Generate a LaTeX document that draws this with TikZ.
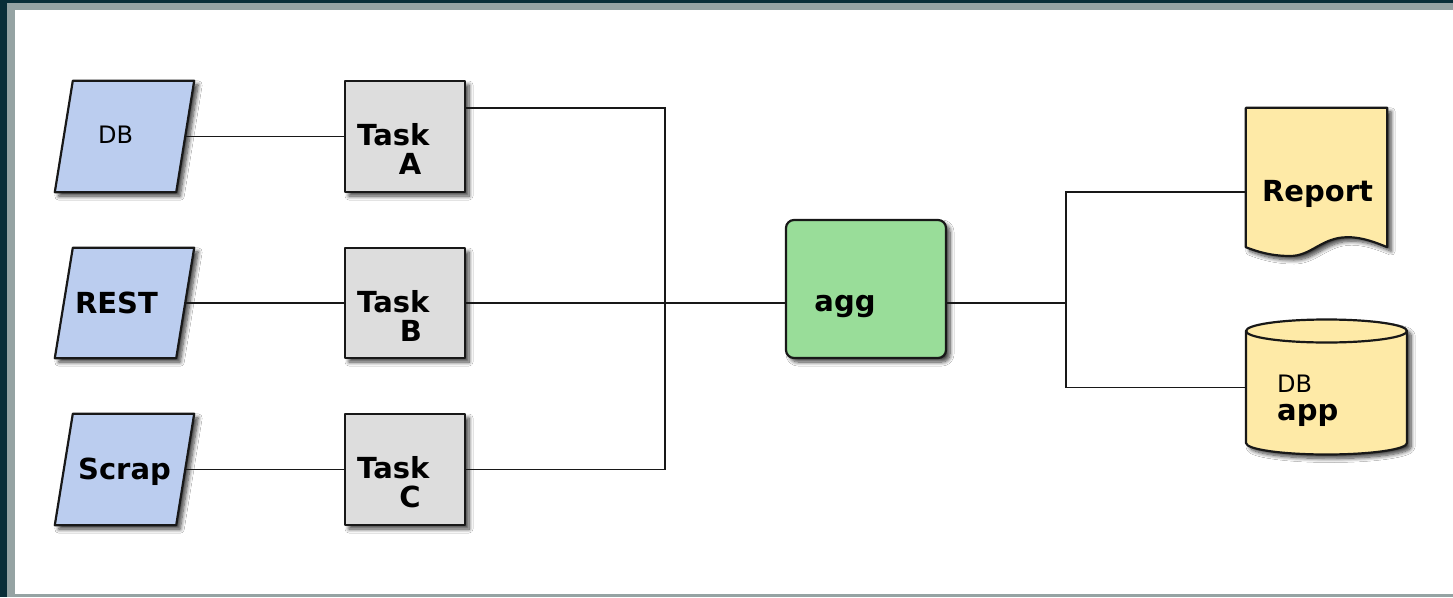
\documentclass[tikz,border=0pt]{standalone}
\usepackage{fontspec}
\setmainfont{DejaVu Sans}
\usetikzlibrary{shadows.blur,calc}

\definecolor{framedark}{RGB}{9,46,56}
\definecolor{framegray}{RGB}{149,163,163}
\definecolor{srcblue}{RGB}{187,205,239}
\definecolor{taskgray}{RGB}{221,221,221}
\definecolor{agggreen}{RGB}{153,221,153}
\definecolor{outyellow}{RGB}{254,234,167}
\definecolor{edge}{RGB}{24,24,24}

\tikzset{
  outline/.style={draw=edge, line width=2.2pt, line join=round},
  softshadow/.style={blur shadow={shadow xshift=4pt, shadow yshift=-4pt,
      shadow blur radius=4pt, shadow blur steps=8, shadow opacity=75}},
  place/.style={draw=none, inner sep=0pt, minimum width=#1},
  srcshape/.style={outline, fill=srcblue, softshadow},
  taskbox/.style={outline, fill=taskgray, softshadow, inner sep=0pt,
      minimum width=120pt, minimum height=111pt},
  aggbox/.style={outline, fill=agggreen, softshadow, rounded corners=8pt,
      inner sep=0pt, minimum width=160pt, minimum height=138pt},
  outshape/.style={outline, fill=outyellow, softshadow},
  wire/.style={draw=edge, line width=1.8pt},
  lbl/.style={inner sep=0pt, font=\fontsize{29}{31}\selectfont\bfseries},
  lblthin/.style={inner sep=0pt, font=\fontsize{24}{26}\selectfont},
}

% slanted input box drawn around an invisible anchor node
\newcommand\inputshape[1]{%
  \path[srcshape] ([xshift=-9pt]#1.south west) -- ([xshift=9pt]#1.north west)
    -- ([xshift=9pt]#1.north east) -- ([xshift=-9pt]#1.south east) -- cycle;}

\begin{document}
\begin{tikzpicture}[x=1pt, y=-1pt]
  % frame
  \useasboundingbox (0,0) rectangle (1453,597);
  \fill[framedark] (0,0) rectangle (1453,597);
  \fill[framegray] (7,3) rectangle (1453,597);
  \fill[white] (15,10) rectangle (1453,594);

  % input sources
  \node[place=121pt, minimum height=111pt] (db)    at (124.5,136.5) {};
  \node[place=121pt, minimum height=110pt] (rest)  at (124.5,303)   {};
  \node[place=121pt, minimum height=111pt] (scrap) at (124.5,469.5) {};
  \inputshape{db}
  \inputshape{rest}
  \inputshape{scrap}
  \node[lblthin, anchor=base] (dbtxt)    at (115.5,143.5) {DB};
  \node[lbl, anchor=base]     (resttxt)  at (116.5,313)   {REST};
  \node[lbl, anchor=base]     (scraptxt) at (124.5,479)   {Scrap};

  % tasks
  \node[taskbox] (taskA) at (405,136.5) {};
  \node[taskbox, minimum height=110pt] (taskB) at (405,303) {};
  \node[taskbox] (taskC) at (405,469.5) {};
  \node[lbl, anchor=base west] (taskAt) at (357,145) {Task};
  \node[lbl, anchor=base]      (taskAl) at (410,174) {A};
  \node[lbl, anchor=base west] (taskBt) at (357,312) {Task};
  \node[lbl, anchor=base]      (taskBl) at (411,341) {B};
  \node[lbl, anchor=base west] (taskCt) at (357,478) {Task};
  \node[lbl, anchor=base]      (taskCl) at (410,507) {C};

  % aggregation step
  \node[aggbox] (agg) at (866,289) {};
  \node[lbl, anchor=base] (aggtxt) at (845,311) {agg};

  % report document
  \node[place=141pt, minimum height=139pt] (rep) at (1316.5,177.5) {};
  \path[outshape] (rep.north west) -- (rep.north east) -- (rep.south east)
    .. controls (1370,240) and (1356,236) .. (1342,237.5)
    .. controls (1320,240) and (1310,256) .. (1290,256)
    .. controls (1272,256) and (1258,252) .. (rep.south west) -- cycle;
  \node[lbl, anchor=base] (reptxt) at (1317.5,201) {Report};

  % application database
  \node[place=161pt, minimum height=135pt] (dbapp) at (1326.5,387.5) {};
  \path[outshape] (1246,331) -- (1246,443)
    arc[start angle=180, end angle=360, x radius=80.5pt, y radius=11.5pt]
    -- (1407,331)
    arc[start angle=0, end angle=180, x radius=80.5pt, y radius=11.5pt] -- cycle;
  \draw[outline] (1246,331)
    arc[start angle=180, end angle=360, x radius=80.5pt, y radius=11.5pt];
  \node[lblthin, anchor=base west] (dbapptxt1) at (1277,392) {DB};
  \node[lbl, anchor=base west]     (dbapptxt2) at (1277,420) {app};

  % connectors
  \coordinate (jl) at (665,303);
  \coordinate (jr) at (1066,303);
  \coordinate (repin) at ([yshift=-14.5pt]rep.west);
  \draw[wire] (db.east) -- (taskA.west);
  \draw[wire] (rest.east) -- (taskB.west);
  \draw[wire] (scrap.east) -- (taskC.west);
  \draw[wire] ([yshift=-28pt]taskA.north east) -| (jl) |- (taskC.east);
  \draw[wire] (taskB.east) -- (jl) -- (agg.west |- jl);
  \draw[wire] (agg.east |- jr) -- (jr);
  \draw[wire] (repin) -| (jr) |- (dbapp.west);
\end{tikzpicture}
\end{document}
